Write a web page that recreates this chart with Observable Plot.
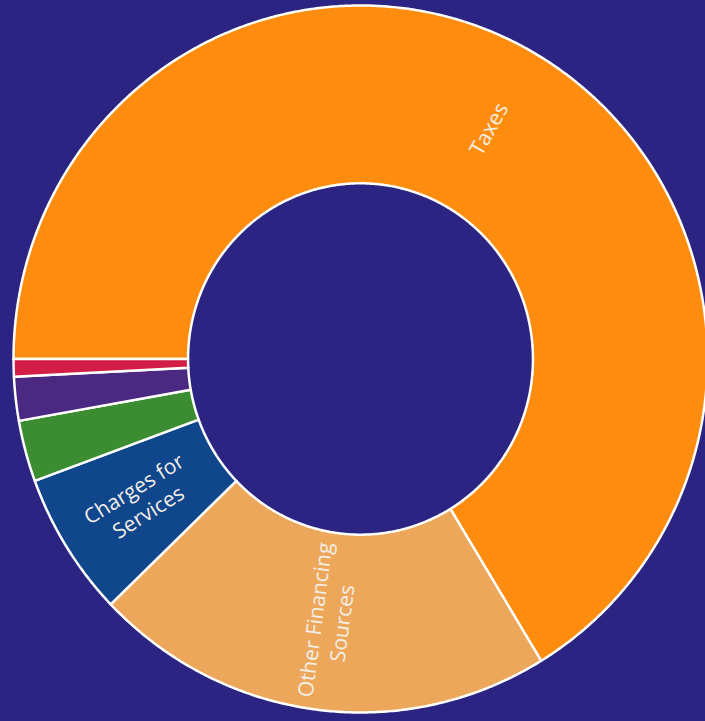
<!DOCTYPE html>
<html><head><meta charset="utf-8">
<script src="https://cdn.jsdelivr.net/npm/d3@7"></script>
<script src="https://cdn.jsdelivr.net/npm/@observablehq/plot@0.6"></script>
<style>html,body{margin:0;padding:0;background:#2b2482;overflow:hidden}</style>
</head><body><div id="chart"></div>
<script>
// Revenue sources (share of total, %), clockwise starting at 9 o'clock
const categories = ["Taxes", "Other Financing Sources", "Charges for Services", "Category 4", "Category 5", "Category 6"];
const shares = [66.25, 21.5, 6.6, 2.8, 2.0, 0.8];
const labels = ["Taxes", "Other Financing\nSources", "Charges for\nServices", "", "", ""];
const colors = ["#fd8c0f", "#eda75a", "#10468c", "#3c8c32", "#4b2882", "#d21e46"];

const startAngle = 270;   // degrees clockwise from 12 o'clock
const outerR = 1, innerR = 0.497;
const rad = Math.PI / 180;

const total = d3.sum(shares);
let acc = 0;
const slices = categories.map((cat, i) => {
  const a0 = startAngle + acc / total * 360;
  acc += shares[i];
  const a1 = startAngle + acc / total * 360;
  return {cat, a0, a1, label: labels[i]};
});

// polygon outline points of every ring segment
const pts = [];
for (const s of slices) {
  const n = Math.max(2, Math.ceil((s.a1 - s.a0) / 0.4));
  const ring = [];
  for (let k = 0; k <= n; k++) {
    const a = (s.a0 + (s.a1 - s.a0) * k / n) * rad;
    ring.push([outerR * Math.sin(a), outerR * Math.cos(a)]);
  }
  for (let k = n; k >= 0; k--) {
    const a = (s.a0 + (s.a1 - s.a0) * k / n) * rad;
    ring.push([innerR * Math.sin(a), innerR * Math.cos(a)]);
  }
  ring.push(ring[0]);
  for (const [x, y] of ring) pts.push({cat: s.cat, x, y});
}

// labels at mid-angle, mid-radius, oriented radially
const midR = (outerR + innerR) / 2;
const labelData = slices.filter(s => s.label).map(s => {
  const m = (s.a0 + s.a1) / 2;
  let rot = ((m - 90) % 360 + 360) % 360;
  if (rot > 180) rot -= 360;
  if (rot > 90) rot -= 180;
  if (rot < -90) rot += 180;
  return {label: s.label, x: midR * Math.sin(m * rad), y: midR * Math.cos(m * rad), rot};
});

const chart = Plot.plot({
  width: 705,
  height: 721,
  margin: 0,
  x: {domain: [-1.0375, 0.9942], axis: null},
  y: {domain: [-1.0255, 1.0141], axis: null},
  color: {domain: categories, range: colors},
  style: {background: "#2b2482", overflow: "hidden"},
  marks: [
    Plot.line(pts, {x: "x", y: "y", z: "cat", fill: "cat", stroke: "white", strokeWidth: 2.5, strokeLinejoin: "round", curve: "linear"}),
    Plot.text(labelData, {x: "x", y: "y", text: "label", rotate: "rot", fill: "#f3efe6",
      fontSize: 21, fontFamily: "Open Sans", lineHeight: 1.3})
  ]
});
document.getElementById("chart").appendChild(chart);
</script>
</body></html>
